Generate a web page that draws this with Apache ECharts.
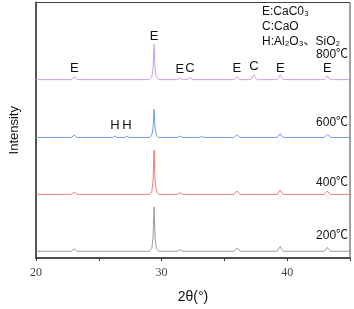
<!DOCTYPE html>
<html><head><meta charset="utf-8">
<script src="https://cdn.jsdelivr.net/npm/echarts@6/dist/echarts.min.js"></script>
<style>html,body{margin:0;padding:0;background:#fff}#c{width:354px;height:309px}</style>
</head><body><div id="c"></div>
<script>
// Sample names (temperatures)
const samples = ['200℃', '400℃', '600℃', '800℃'];
// Vertical offset of each pattern (stacked display)
const offsets = [7, 66, 125, 185];
// Relative intensity patterns [2θ, intensity above baseline]
const pattern200 = [[20,0],[22.8,0],[22.95,1],[23.05,2.5],[23.15,1],[23.3,0],
  [29.05,0],[29.22,3],[29.32,14],[29.4,46],[29.48,14],[29.58,3],[29.75,0],
  [31.25,0],[31.45,1.5],[31.65,0],
  [35.75,0],[35.9,1.5],[36.0,3.5],[36.1,1.5],[36.25,0],
  [39.2,0],[39.35,2],[39.45,5],[39.55,2],[39.72,0],
  [42.95,0],[43.1,1.6],[43.2,4],[43.3,1.6],[43.47,0],[45,0]];
const pattern400 = [[20,0],[22.8,0],[22.95,1],[23.05,2.5],[23.15,1],[23.3,0],
  [29.05,0],[29.22,3],[29.32,14],[29.4,46],[29.48,14],[29.58,3],[29.75,0],
  [31.25,0],[31.45,2],[31.65,0],
  [35.75,0],[35.9,1.5],[36.0,3.5],[36.1,1.5],[36.25,0],
  [39.2,0],[39.35,1.8],[39.45,4.5],[39.55,1.8],[39.72,0],
  [42.95,0],[43.1,1.4],[43.2,3.5],[43.3,1.4],[43.47,0],[45,0]];
const pattern600 = [[20,0],[22.8,0],[22.95,1],[23.05,2.5],[23.15,1],[23.3,0],
  [26.1,0],[26.28,1.5],[26.45,0],
  [27.08,0],[27.25,1.5],[27.42,0],
  [29.05,0],[29.22,2.5],[29.32,10],[29.4,29.5],[29.48,10],[29.58,2.5],[29.75,0],
  [31.25,0],[31.45,1.5],[31.65,0],
  [33.0,0],[33.2,1],[33.4,0],
  [35.75,0],[35.9,1.2],[36.0,3],[36.1,1.2],[36.25,0],
  [39.2,0],[39.35,1.6],[39.45,4],[39.55,1.6],[39.72,0],
  [42.95,0],[43.1,1.2],[43.2,3],[43.3,1.2],[43.47,0],[45,0]];
const pattern800 = [[20,0],[22.8,0],[22.95,1.2],[23.05,3],[23.15,1.2],[23.3,0],
  [29.05,0],[29.22,3],[29.32,11],[29.4,36.5],[29.48,11],[29.58,3],[29.75,0],
  [31.25,0],[31.45,1.5],[31.65,0],
  [32.05,0],[32.25,2.2],[32.45,0],
  [35.75,0],[35.9,1.2],[36.0,3],[36.1,1.2],[36.25,0],
  [37.1,0],[37.25,2],[37.35,5],[37.45,2],[37.62,0],
  [39.2,0],[39.35,2],[39.45,5],[39.55,2],[39.72,0],
  [42.95,0],[43.1,1.6],[43.2,4],[43.3,1.6],[43.47,0],[45,0]];
const patterns = [pattern200, pattern400, pattern600, pattern800];
// Peak annotations [2θ, label y (display units), text]
const peakLabels800 = [[23.05,197,'E'],[29.4,230,'E'],[31.45,196,'E'],[32.25,197,'C'],
  [36.0,197,'E'],[37.35,199,'C'],[39.45,197,'E'],[43.2,197,'E']];
const peakLabels600 = [[26.28,137,'H'],[27.25,137,'H']];
// Sample label y (display units)
const sampleLabelY = [23, 78, 140, 211];
const xTicks = [20, 30, 40];
const colors = ['#9a9a9a', '#f27a7a', '#6e9cec', '#c9a0e8'];

const font = "'Liberation Sans', Arial, 'Noto Sans CJK SC', sans-serif";
const chart = echarts.init(document.getElementById('c'));

const series = patterns.map((p, i) => {
  const s = {
    type: 'line', name: samples[i], showSymbol: false, symbol: 'none', silent: true,
    data: p.map(d => [d[0], d[1] + offsets[i]]),
    lineStyle: { color: colors[i], width: 1 }, itemStyle: { color: colors[i] },
    animation: false,
    markPoint: {
      symbol: 'circle', symbolSize: 0, silent: true, animation: false,
      label: { show: true, position: 'inside', color: '#111', fontFamily: font, fontSize: 13 },
      data: [{ coord: [44.85, sampleLabelY[i]], value: samples[i],
        label: { formatter: samples[i], align: 'right', fontSize: 12 } }]
    }
  };
  let pl = i === 3 ? peakLabels800 : (i === 2 ? peakLabels600 : []);
  pl.forEach(l => s.markPoint.data.push({ coord: [l[0], l[1]], value: l[2], label: { formatter: l[2] } }));
  return s;
});

chart.setOption({
  animation: false,
  grid: { left: 32, right: 4, top: 2.5, bottom: 41, show: true, borderColor: '#444', borderWidth: 1 },
  xAxis: {
    type: 'value', min: 20, max: 45, interval: 5,
    name: '2θ(°)', nameLocation: 'middle', nameGap: 32,
    nameTextStyle: { fontFamily: font, fontSize: 14, color: '#111' },
    axisLine: { lineStyle: { color: '#333', width: 1.5 } },
    axisTick: { show: true, length: 3, lineStyle: { color: '#333' } },
    axisLabel: { fontFamily: "'Liberation Serif', 'Times New Roman', serif", fontSize: 12, color: '#444', margin: 9,
      formatter: v => (xTicks.indexOf(v) >= 0 ? String(v) : '') },
    splitLine: { show: false }
  },
  yAxis: {
    type: 'value', min: 0, max: 265,
    name: 'Intensity', nameLocation: 'middle', nameGap: 15, nameRotate: 90,
    nameTextStyle: { fontFamily: font, fontSize: 13, color: '#111' },
    axisLine: { show: true, lineStyle: { color: '#555', width: 2 } },
    axisTick: { show: false }, axisLabel: { show: false }, splitLine: { show: false }
  },
  graphic: [{
    type: 'text', left: 262, top: 4,
    style: { text: 'E:CaC0₃\nC:CaO\nH:Al₂O₃、SiO₂', font: '12px ' + font, lineHeight: 15, fill: '#111' }
  }],
  series: series
});
</script></body></html>
